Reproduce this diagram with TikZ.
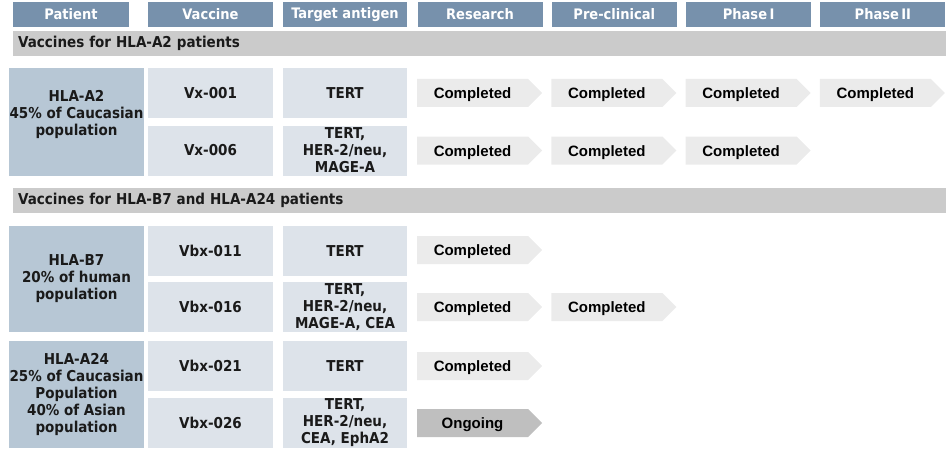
\documentclass[tikz,border=0pt]{standalone}
\usepackage{fontspec}
\setmainfont{DejaVu Sans Condensed}
\newfontfamily\arialfont{Liberation Sans}
\usetikzlibrary{shapes.symbols}
\definecolor{headblue}{HTML}{7791AC}
\definecolor{bandgray}{HTML}{CBCBCB}
\definecolor{patblue}{HTML}{B7C7D5}
\definecolor{cellblue}{HTML}{DDE3EA}
\definecolor{donegray}{HTML}{EBEBEB}
\definecolor{runninggray}{HTML}{BFBFBF}
\definecolor{inkblack}{HTML}{1A1A1A}
\tikzset{
	head/.style={fill=headblue, text=white, minimum height=25, inner sep=0, font=\bfseries\fontsize{14.5}{15}\selectfont},
	band/.style={fill=bandgray, text=inkblack, anchor=west, minimum height=25, text width=923, inner xsep=5, inner ysep=0, align=left, font=\bfseries\fontsize{15}{15}\selectfont},
	patcell/.style={fill=patblue, minimum width=135, inner sep=0},
	celltext/.style={text=inkblack, align=center, font=\bfseries\fontsize{15}{17}\selectfont},
	cell/.style={celltext, fill=cellblue, minimum height=50, inner sep=0},
	stage/.style={signal, signal to=east, signal from=nowhere, signal pointer angle=90, minimum width=125, minimum height=28, inner sep=0, text height=11pt, text depth=0pt, fill=donegray, text=black, font=\arialfont\bfseries\fontsize{15}{15}\selectfont},
	ongoing/.style={stage, fill=runninggray}
}

\begin{document}
\begin{tikzpicture}[x=1pt,y=-1pt]
			\useasboundingbox (0,0) rectangle (946,460);
			\node[head, minimum width=116] (hpat) at (71,14.5) {Patient};
			\node[head, minimum width=125] (hvac) at (210.5,14.5) {Vaccine};
			\node[head, minimum width=124] (htgt) at (345,14.5) {Target antigen};
			\foreach \s [count=\i] in {Research,Pre-clinical,Phase\,I,Phase\,II}
				\node[head, minimum width=125] (hst\i) at (480+134.3*\i-134.3,14.5) {\s};
			\node[band] (bandA) at (13,43.5) {Vaccines for HLA-A2 patients};
			\node[band] (bandB) at (13,200) {Vaccines for HLA-B7 and HLA-A24 patients};
			\node[patcell, minimum height=108] (hlaA) at (76.5,122) {};
			\node[celltext] at ([yshift=8]hlaA.center) {HLA-A2\\45\% of Caucasian\\population};
			\node[patcell, minimum height=106] (hlaB) at (76.5,279) {};
			\node[celltext] at (hlaB.center) {HLA-B7\\20\% of human\\population};
			\node[patcell, minimum height=107] (hlaC) at (76.5,394.5) {};
			\node[celltext] at (hlaC.center) {HLA-A24\\25\% of Caucasian\\Population\\40\% of Asian\\population};
			\node[cell, minimum width=125] (vx001) at (210.5,93) {Vx-001};
			\node[cell, minimum width=124] (tg001) at (345,93) {TERT};
			\node[cell, minimum width=125] (vx006) at (210.5,150.5) {Vx-006};
			\node[cell, minimum width=124] (tg006) at (345,150.5) {TERT,\\HER-2/neu,\\MAGE-A};
			\node[cell, minimum width=125] (vbx011) at (210.5,251) {Vbx-011};
			\node[cell, minimum width=124] (tg011) at (345,251) {TERT};
			\node[cell, minimum width=125] (vbx016) at (210.5,307) {Vbx-016};
			\node[cell, minimum width=124] (tg016) at (345,307) {TERT,\\HER-2/neu,\\MAGE-A, CEA};
			\node[cell, minimum width=125] (vbx021) at (210.5,366) {Vbx-021};
			\node[cell, minimum width=124] (tg021) at (345,366) {TERT};
			\node[cell, minimum width=125] (vbx026) at (210.5,423) {Vbx-026};
			\node[cell, minimum width=124] (tg026) at (345,423) {TERT,\\HER-2/neu,\\CEA, EphA2};
			\foreach \i in {1,...,4}
				\node[stage] (s001\i) at (472.5+134.3*\i-134.3,93) {Completed};
			\foreach \i in {1,...,3}
				\node[stage] (s006\i) at (472.5+134.3*\i-134.3,150.5) {Completed};
			\node[stage] (s0111) at (472.5,250) {Completed};
			\node[stage] (s0161) at (472.5,307) {Completed};
			\node[stage] (s0162) at (606.8,307) {Completed};
			\node[stage] (s0211) at (472.5,366) {Completed};
			\node[ongoing] (s0261) at (472.5,423) {Ongoing};
		\end{tikzpicture}
\end{document}
